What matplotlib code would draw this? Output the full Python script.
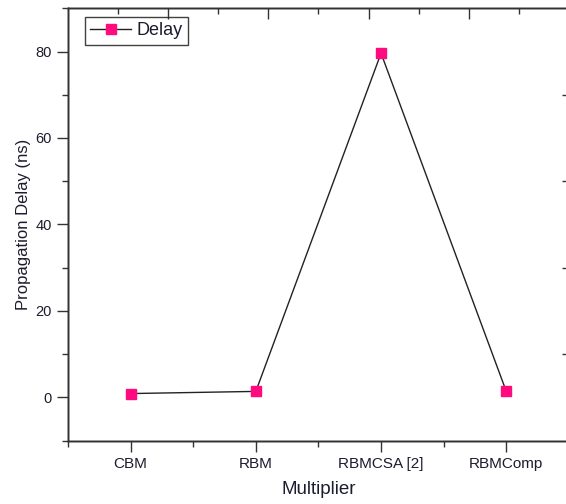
import matplotlib
matplotlib.use("Agg")
import matplotlib.pyplot as plt
from matplotlib.ticker import MultipleLocator, FixedLocator, NullFormatter

# data
multipliers = ["CBM", "RBM", "RBMCSA [2]", "RBMComp"]
delay_ns = [0.9, 1.4, 79.6, 1.4]

plt.rcParams["font.family"] = ["Liberation Sans", "DejaVu Sans"]
text_color = "#1c1c2e"
axis_color = "#333333"

fig = plt.figure(figsize=(5.66, 5.04), dpi=100)
ax = fig.add_axes([0.1201, 0.1256, 0.885, 0.858])

x = list(range(1, len(multipliers) + 1))
ax.plot(x, delay_ns, color="#222222", linewidth=1.0, marker="s",
        markersize=6.5, markerfacecolor="#ff0a7f", markeredgecolor="#ff0a7f",
        label="Delay")

ax.set_xlim(0.5, 4.5)
ax.set_ylim(-10, 90)
ax.set_xticks(x)
ax.set_xticklabels(multipliers, fontsize=11, color=text_color)
ax.xaxis.set_minor_locator(FixedLocator([0.5, 1.5, 2.5, 3.5, 4.5]))
ax.yaxis.set_major_locator(MultipleLocator(20))
ax.yaxis.set_minor_locator(MultipleLocator(10))
ax.tick_params(axis="y", labelsize=10.5, labelcolor=text_color)
ax.tick_params(which="major", length=8, width=1, color=axis_color, direction="out")
ax.tick_params(which="minor", length=4, width=1, color=axis_color, direction="out")
ax.tick_params(axis="x", pad=4)

ax.set_xlabel("Multiplier", fontsize=13.5, color=text_color, labelpad=7)
ax.set_ylabel("Propagation Delay (ns)", fontsize=12, color=text_color, labelpad=3)

for s in ax.spines.values():
    s.set_color(axis_color)
    s.set_linewidth(1.0)

# top axis with its own tick set (inward)
top = ax.twiny()
top.set_xlim(0, 5)
top.xaxis.set_major_locator(FixedLocator([1, 2, 3, 4]))
top.xaxis.set_minor_locator(FixedLocator([0.5, 1.5, 2.5, 3.5, 4.5]))
top.xaxis.set_major_formatter(NullFormatter())
top.tick_params(which="major", length=8, width=1, direction="in", color=axis_color)
top.tick_params(which="minor", length=4, width=1, direction="in", color=axis_color)

# right axis, only minor ticks pointing in
right = ax.twinx()
right.set_ylim(-10, 90)
right.yaxis.set_major_locator(FixedLocator([]))
right.yaxis.set_minor_locator(FixedLocator([10, 30, 50, 70]))
right.tick_params(which="minor", length=5, width=1, direction="in", color=axis_color)
for a in (top, right):
    for s in a.spines.values():
        s.set_color(axis_color)
        s.set_linewidth(1.0)

leg = ax.legend(loc="upper left", bbox_to_anchor=(0.033, 0.98), fontsize=13,
                frameon=True, fancybox=False, handlelength=2.3, handletextpad=0.3,
                borderpad=0.3, borderaxespad=0)
leg.get_frame().set_edgecolor("#111111")
leg.get_frame().set_linewidth(1.0)
for t in leg.get_texts():
    t.set_color(text_color)

fig.savefig("out.png", dpi=100)
plt.close(fig)
